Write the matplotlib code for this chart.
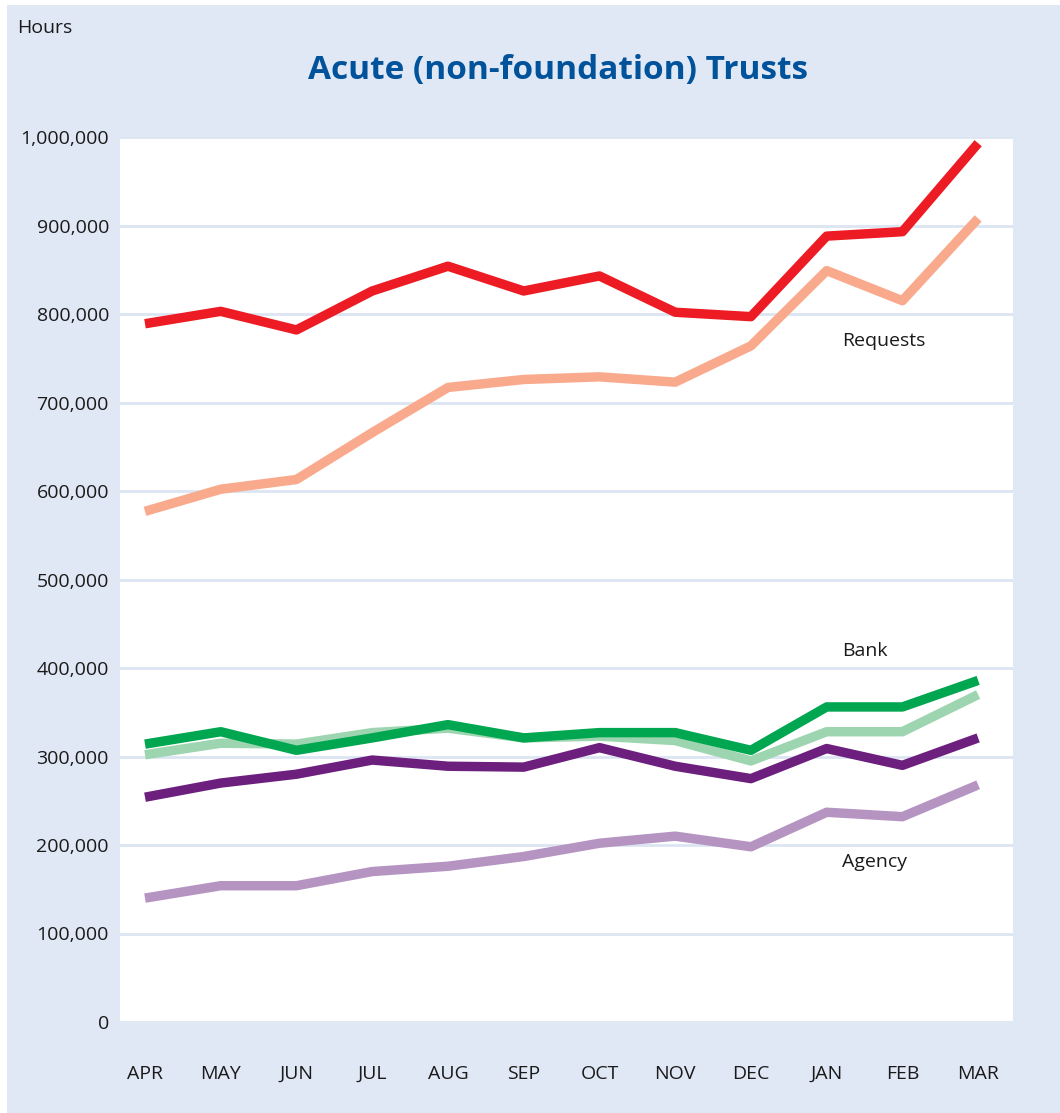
import numpy as np
import matplotlib
matplotlib.use('Agg')
import matplotlib.pyplot as plt
from matplotlib.patches import Rectangle
from matplotlib.ticker import FuncFormatter

plt.rcParams['font.family'] = ['Open Sans', 'DejaVu Sans']

months = ['APR', 'MAY', 'JUN', 'JUL', 'AUG', 'SEP', 'OCT', 'NOV', 'DEC', 'JAN', 'FEB', 'MAR']
requests_a = [789, 803, 782, 826, 854, 826, 843, 802, 797, 888, 893, 993]
requests_b = [577, 602, 613, 666, 717, 726, 729, 723, 764, 849, 815, 908]
bank_a = [314, 328, 307, 321, 336, 321, 327, 327, 307, 356, 356, 386]
bank_b = [302, 315, 314, 327, 332, 321, 323, 318, 295, 328, 328, 370]
agency_a = [254, 270, 280, 296, 289, 288, 310, 289, 275, 309, 290, 321]
agency_b = [140, 154, 154, 170, 176, 187, 202, 210, 198, 237, 232, 268]
yticks = [0, 100000, 200000, 300000, 400000, 500000, 600000, 700000, 800000, 900000, 1000000]

bg = '#e1e8f5'
fig = plt.figure(figsize=(10.6, 11.13), dpi=100)
fig.patch.set_facecolor('white')
fig.patches.append(Rectangle((7/1060, 0), 1, 1 - 5/1113, transform=fig.transFigure,
                             facecolor=bg, edgecolor='none', zorder=-10))

ax = fig.add_axes([120/1060, 1 - 1022/1113, 893/1060, 885/1113])
ax.set_facecolor('white')
x = np.arange(len(months))
lw = 6.8
ax.plot(x, np.array(bank_b)*1000, color='#9dd5b0', lw=lw, solid_capstyle='butt', zorder=3)
ax.plot(x, np.array(agency_b)*1000, color='#b594c2', lw=lw, solid_capstyle='butt', zorder=3)
ax.plot(x, np.array(requests_b)*1000, color='#f9a98c', lw=lw, solid_capstyle='butt', zorder=3)
ax.plot(x, np.array(agency_a)*1000, color='#6d1f7e', lw=lw, solid_capstyle='butt', zorder=4)
ax.plot(x, np.array(bank_a)*1000, color='#00a650', lw=lw, solid_capstyle='butt', zorder=4)
ax.plot(x, np.array(requests_a)*1000, color='#ed1c24', lw=lw, solid_capstyle='butt', zorder=4)

ax.set_xlim(-0.33, 11.46)
ax.set_ylim(0, 1000000)
ax.set_yticks(yticks)
ax.yaxis.set_major_formatter(FuncFormatter(lambda v, p: '{:,.0f}'.format(v)))
ax.set_xticks(x)
ax.set_xticklabels(months)
ax.tick_params(axis='both', length=0, labelsize=14, colors='#1a1a1a')
ax.tick_params(axis='y', pad=8)
ax.tick_params(axis='x', pad=31)
ax.grid(axis='y', color='#dde5f3', lw=2)
ax.set_axisbelow(True)
for s in ax.spines.values():
    s.set_visible(False)

ax.text(9.2, 770000, 'Requests', fontsize=14, color='#1a1a1a', va='center')
ax.text(9.2, 419000, 'Bank', fontsize=14, color='#1a1a1a', va='center')
ax.text(9.2, 181000, 'Agency', fontsize=14, color='#1a1a1a', va='center')

fig.text(17/1060, 1 - 28/1113, 'Hours', fontsize=14, color='#1a1a1a', va='center')
fig.text(558/1060, 1 - 70/1113, 'Acute (non-foundation) Trusts', fontsize=24,
         fontweight='bold', color='#00529b', ha='center', va='center')

fig.savefig('out.png', dpi=100, facecolor=fig.get_facecolor())
